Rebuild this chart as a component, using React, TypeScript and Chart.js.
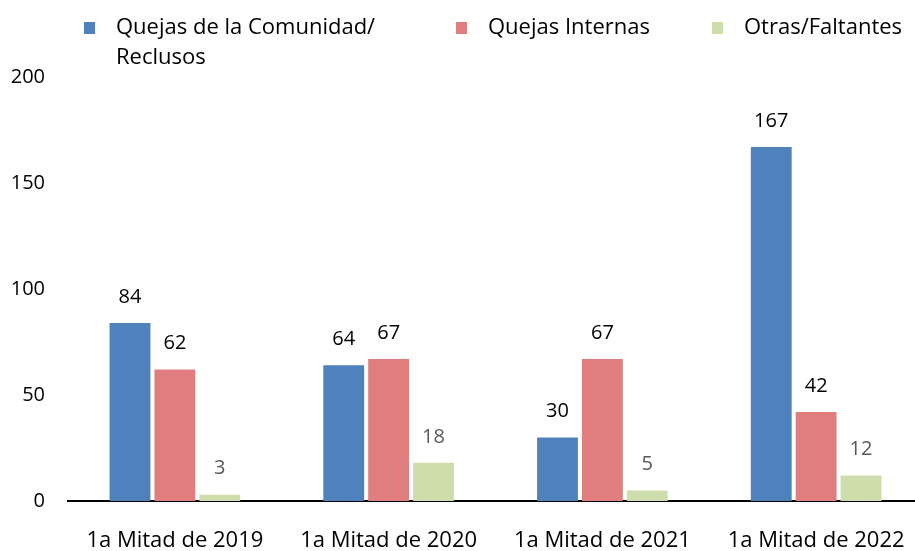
import React, { useEffect, useRef } from "react";
import { Chart, registerables } from "chart.js";

Chart.register(...registerables);

const categories = ["1a Mitad de 2019", "1a Mitad de 2020", "1a Mitad de 2021", "1a Mitad de 2022"];
const seriesNames = ["Quejas de la Comunidad/\nReclusos", "Quejas Internas", "Otras/Faltantes"];
const comunidad = [84, 64, 30, 167];
const internas = [62, 67, 67, 42];
const otras = [3, 18, 5, 12];
const colors = ["#4F81BD", "#E07E7F", "#CDDDAB"];
const labelColors = ["#000000", "#000000", "#595959"];

const FONT = "'Open Sans'";

const dataLabels = {
  id: "dataLabels",
  afterDatasetsDraw(chart: any) {
    const ctx = chart.ctx;
    ctx.save();
    ctx.font = `20px ${FONT}`;
    ctx.textAlign = "center";
    ctx.textBaseline = "middle";
    chart.data.datasets.forEach((ds: any, i: number) => {
      const meta = chart.getDatasetMeta(i);
      ctx.fillStyle = labelColors[i];
      meta.data.forEach((bar: any, j: number) => {
        ctx.fillText(String(ds.data[j]), bar.x, bar.y - 26);
      });
    });
    ctx.restore();
  },
};

const legendItemX = [84, 456, 712];

const customLegend = {
  id: "customLegend",
  afterDraw(chart: any) {
    const ctx = chart.ctx;
    ctx.save();
    ctx.font = `22px ${FONT}`;
    ctx.textBaseline = "middle";
    ctx.textAlign = "left";
    seriesNames.forEach((name, i) => {
      const x = legendItemX[i];
      ctx.fillStyle = colors[i];
      ctx.fillRect(x, 22, 11, 12);
      ctx.fillStyle = "#000000";
      name.split("\n").forEach((line, k) => {
        ctx.fillText(line, x + 32, 28 + k * 30);
      });
    });
    ctx.restore();
  },
};

export default function App() {
  const ref = useRef<HTMLCanvasElement>(null);
  useEffect(() => {
    document.body.style.margin = "0";
    const chart = new Chart(ref.current!, {
      type: "bar",
      data: {
        labels: categories,
        datasets: [comunidad, internas, otras].map((d, i) => ({
          label: seriesNames[i],
          data: d,
          backgroundColor: colors[i],
          borderWidth: 0,
          categoryPercentage: 0.63,
          barPercentage: 0.91,
        })),
      },
      options: {
        animation: false,
        responsive: false,
        maintainAspectRatio: false,
        layout: { padding: { top: 77, right: 2, left: 0, bottom: 0 } },
        plugins: {
          legend: { display: false },
          tooltip: { enabled: false },
        },
        scales: {
          x: {
            grid: { display: false, drawTicks: false },
            border: { display: true, color: "#000000", width: 2 },
            ticks: { color: "#000000", font: { family: FONT, size: 22 }, padding: 27, maxRotation: 0 },
            afterFit: (s: any) => { s.height = 50; s.paddingRight = 0; s.paddingLeft = 0; },
          },
          y: {
            min: 0,
            max: 200,
            grid: { display: false, drawTicks: false },
            border: { display: false },
            ticks: { stepSize: 50, color: "#000000", font: { family: FONT, size: 20 }, padding: 23 },
            afterFit: (s: any) => { s.width = 68; },
          },
        },
      },
      plugins: [dataLabels, customLegend],
    });
    return () => chart.destroy();
  }, []);
  return (
    <div style={{ width: 915, height: 551, overflow: "hidden" }}>
      <canvas ref={ref} width={925} height={551} style={{ display: "block" }} />
    </div>
  );
}
